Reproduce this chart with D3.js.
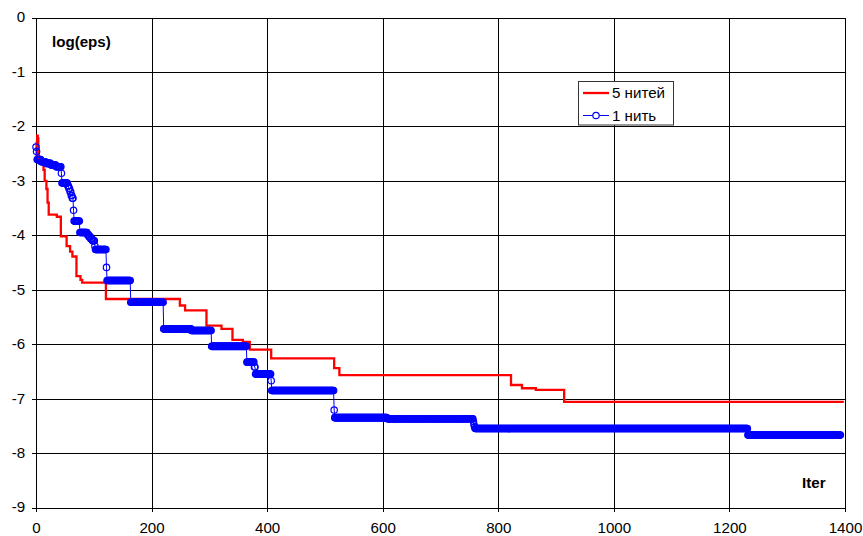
<!DOCTYPE html>
<html>
<head>
<meta charset="utf-8">
<script src="https://cdn.jsdelivr.net/npm/d3@7"></script>
<style>
  html, body { margin: 0; padding: 0; background: #fff; }
  svg { display: block; font-family: "Liberation Sans", Arial, sans-serif; }
</style>
</head>
<body>
<svg id="chart" width="863" height="536"></svg>
<script>
// Axis ticks
const iterTicks = [0, 200, 400, 600, 800, 1000, 1200, 1400];
const logTicks = [0, -1, -2, -3, -4, -5, -6, -7, -8, -9];
const seriesNames = ["5 нитей", "1 нить"];
const axisTitles = ["log(eps)", "Iter"];

// 5 threads: [iteration where the value changes, log(eps)]
const fiveThreads = [
  [0, -2.55], [1, -2.30], [2, -2.17], [3, -2.22], [4, -2.45], [5, -2.62],
  [8, -2.68], [13, -2.80], [15, -3.00], [18, -3.15], [20, -3.40], [22, -3.62],
  [36, -3.66], [43, -4.02], [53, -4.20], [59, -4.30], [63, -4.39], [70, -4.75],
  [77, -4.82], [80, -4.87], [121, -5.17], [249, -5.29], [258, -5.38],
  [295, -5.66], [321, -5.72], [340, -5.92], [358, -5.96], [370, -6.10],
  [407, -6.26], [516, -6.44], [525, -6.57], [822, -6.75], [841, -6.81],
  [865, -6.84], [914, -7.06], [1398, -7.06]
];

// 1 thread: runs of iterations holding the same value [first, last, log(eps)]
const oneThreadRuns = [
  [0, 0, -2.38], [1, 1, -2.46], [2, 8, -2.61], [9, 16, -2.65], [17, 25, -2.68],
  [26, 34, -2.71], [35, 43, -2.74], [44, 44, -2.86], [45, 54, -3.04],
  [55, 56, -3.09], [57, 58, -3.14], [59, 60, -3.20], [61, 62, -3.27],
  [63, 64, -3.32], [65, 65, -3.54], [66, 75, -3.74], [76, 88, -3.95],
  [89, 91, -3.99], [92, 94, -4.03], [95, 97, -4.07], [98, 101, -4.10],
  [102, 102, -4.20], [103, 121, -4.26], [122, 122, -4.59], [123, 163, -4.83],
  [164, 220, -5.23], [221, 268, -5.72], [269, 303, -5.75], [304, 364, -6.04],
  [365, 377, -6.33], [378, 379, -6.42], [380, 406, -6.55], [407, 407, -6.67],
  [408, 515, -6.85], [516, 516, -7.21], [517, 607, -7.35], [608, 756, -7.37],
  [757, 757, -7.42], [758, 758, -7.48], [759, 759, -7.52], [760, 1231, -7.55],
  [1232, 1392, -7.67]
];

// one point per iteration, decoded from the runs
const oneThread = [];
oneThreadRuns.forEach(([a, b, v]) => { for (let i = a; i <= b; i++) oneThread.push([i, v]); });

const plot = { left: 36, right: 845, top: 17.5, bottom: 507.5 };
const stretch = 1.08; // text is drawn slightly wide
const fontSize = 14;

const svg = d3.select("#chart");
const x = d3.scaleLinear().domain([0, 1400]).range([plot.left, plot.right]);
const y = d3.scaleLinear().domain([0, -9]).range([plot.top, plot.bottom]);
const crisp = v => Math.round(v) + 0.5;
const plain = d => String(d); // hyphen-minus for negatives

// grid
const grid = svg.append("g").attr("stroke", "#000").attr("stroke-width", 1).attr("shape-rendering", "crispEdges");
grid.selectAll("line.h").data(logTicks).join("line")
  .attr("x1", plot.left).attr("x2", crisp(x(1400)))
  .attr("y1", d => crisp(y(d))).attr("y2", d => crisp(y(d)));
grid.selectAll("line.v").data(iterTicks).join("line")
  .attr("y1", crisp(y(0))).attr("y2", crisp(y(-9)))
  .attr("x1", d => crisp(x(d))).attr("x2", d => crisp(x(d)));

// axes
const yAxis = svg.append("g").attr("transform", `translate(${x(0)},0)`)
  .call(d3.axisLeft(y).tickValues(logTicks).tickFormat(plain).tickSize(4).tickSizeOuter(0).tickPadding(6));
const xAxis = svg.append("g").attr("transform", `translate(0,${y(-9)})`)
  .call(d3.axisBottom(x).tickValues(iterTicks).tickFormat(plain).tickSize(4).tickSizeOuter(0).tickPadding(12));
[yAxis, xAxis].forEach(g => {
  g.selectAll("path, line").attr("stroke", "#000").attr("shape-rendering", "crispEdges");
  g.selectAll("text").attr("fill", "#000").attr("font-size", fontSize)
    .attr("font-family", "'Liberation Sans', Arial, sans-serif")
    .attr("transform", `scale(${stretch},1)`);
});

function label(txt, px, py, opts = {}) {
  return svg.append("text")
    .attr("transform", `translate(${px},${py}) scale(${stretch},1)`)
    .attr("font-size", opts.size || fontSize)
    .attr("font-weight", opts.bold ? "bold" : "normal")
    .attr("text-anchor", opts.anchor || "start")
    .attr("fill", "#000")
    .text(txt);
}

label(axisTitles[0], 52, 47, { bold: true });
label(axisTitles[1], 802, 488, { bold: true });

// series
const stepLine = d3.line().x(d => x(d[0])).y(d => y(d[1])).curve(d3.curveStepAfter);
svg.append("path").datum(fiveThreads).attr("d", stepLine)
  .attr("fill", "none").attr("stroke", "#ff0000").attr("stroke-width", 2.3);

const line1 = d3.line().x(d => x(d[0])).y(d => y(d[1]));
svg.append("path").datum(oneThread).attr("d", line1)
  .attr("fill", "none").attr("stroke", "#0000ff").attr("stroke-width", 1);
svg.append("g").selectAll("circle").data(oneThread).join("circle")
  .attr("cx", d => x(d[0])).attr("cy", d => y(d[1])).attr("r", 3.2)
  .attr("fill", "none").attr("stroke", "#0000ff").attr("stroke-width", 1.2);

// legend
const lg = svg.append("g");
lg.append("rect").attr("x", 578.5).attr("y", 81.5).attr("width", 95).attr("height", 43.5)
  .attr("fill", "#fff").attr("stroke", "#333").attr("stroke-width", 1);
lg.append("line").attr("x1", 583).attr("x2", 609).attr("y1", 93).attr("y2", 93)
  .attr("stroke", "#ff0000").attr("stroke-width", 2.3);
lg.append("line").attr("x1", 583).attr("x2", 609).attr("y1", 115.5).attr("y2", 115.5)
  .attr("stroke", "#0000ff").attr("stroke-width", 1);
lg.append("circle").attr("cx", 596).attr("cy", 115.5).attr("r", 3.2)
  .attr("fill", "#fff").attr("stroke", "#0000ff").attr("stroke-width", 1.2);
label(seriesNames[0], 612, 98);
label(seriesNames[1], 612, 120.5);
</script>
</body>
</html>
